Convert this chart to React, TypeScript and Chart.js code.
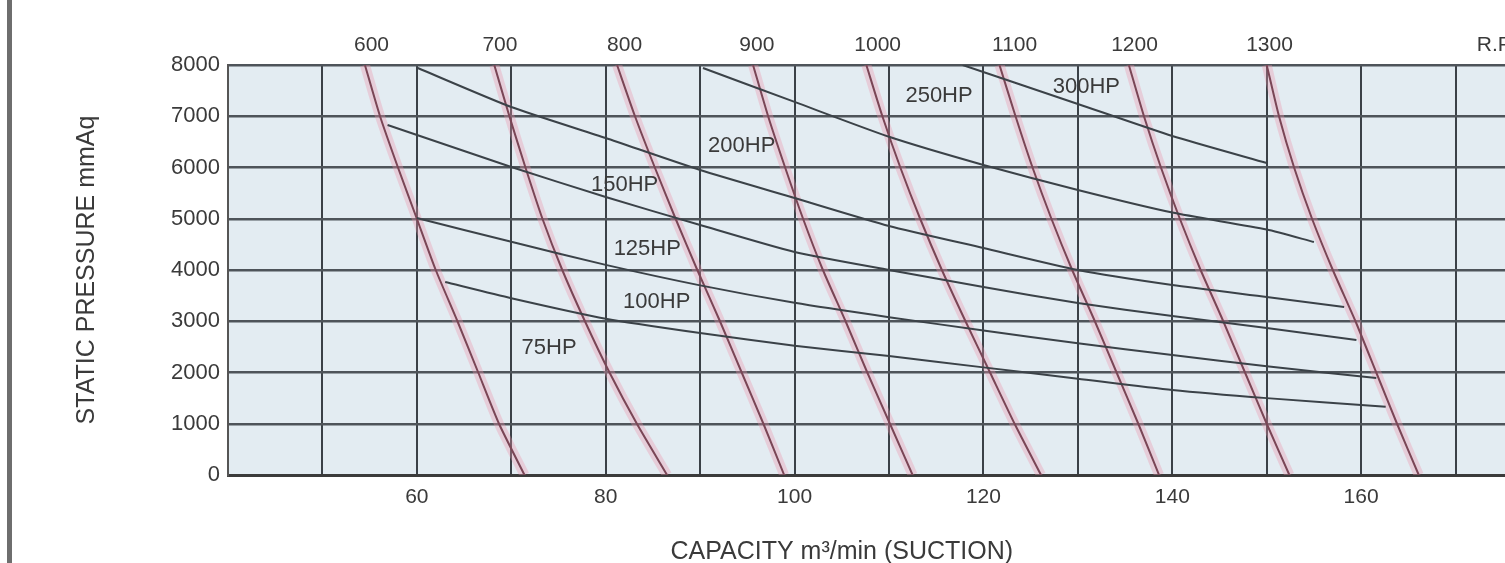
import React, { useEffect, useRef } from 'react';
import { Chart, registerables } from 'chart.js';

Chart.register(...registerables);

// ---------- data ----------
// static pressure levels (mmAq) at which every R.P.M. line is sampled
const pressureLevels = [8000, 7000, 6000, 5000, 4000, 3000, 2000, 1000, 0];

// capacity (m3/min) of each R.P.M. line at the pressure levels above
const rpm600 = [54.5, 56.1, 58.0, 60.0, 62.0, 64.3, 66.5, 68.7, 71.4];
const rpm700 = [68.2, 69.8, 71.5, 73.3, 75.4, 77.8, 80.4, 83.3, 86.5];
const rpm800 = [81.2, 83.1, 85.2, 87.4, 89.7, 92.1, 94.4, 96.7, 98.9];
const rpm900 = [95.6, 97.2, 99.0, 100.9, 103.0, 105.4, 107.7, 110.1, 112.5];
const rpm1000 = [107.6, 109.3, 111.2, 113.3, 115.6, 118.1, 120.7, 123.3, 126.1];
const rpm1100 = [121.7, 123.4, 125.2, 127.2, 129.4, 131.8, 134.1, 136.4, 138.6];
const rpm1200 = [135.4, 137.0, 138.8, 140.8, 143.0, 145.4, 147.7, 150.0, 152.4];
const rpm1300 = [150.0, 151.3, 152.9, 154.8, 157.0, 159.4, 161.6, 163.8, 166.1];

// horsepower boundary curves: capacity / pressure pairs
const hp75to100Flow = [63.0, 70, 80, 90, 100, 110, 120, 130, 140, 150, 162.6];
const hp75to100Pres = [3766, 3450, 3050, 2770, 2520, 2320, 2100, 1880, 1660, 1500, 1330];
const hp100to125Flow = [60.0, 70, 80, 90, 100, 110, 120, 130, 140, 150, 161.6];
const hp100to125Pres = [5015, 4550, 4100, 3700, 3360, 3080, 2820, 2570, 2340, 2120, 1893];
const hp125to150Flow = [56.9, 70, 80, 90, 100, 110, 120, 130, 140, 150, 159.5];
const hp125to150Pres = [6830, 6010, 5424, 4878, 4351, 4000, 3668, 3356, 3102, 2868, 2634];
const hp150to200Flow = [60.1, 70, 80, 90, 100, 110, 120, 130, 140, 150, 158.2];
const hp150to200Pres = [7941, 7180, 6575, 5951, 5405, 4859, 4429, 4000, 3707, 3473, 3278];
const hp200to250Flow = [90.3, 100, 110, 120, 130, 140, 150, 155.0];
const hp200to250Pres = [7941, 7280, 6600, 6050, 5560, 5120, 4790, 4546];
const hp250to300Flow = [117.8, 130, 140, 150];
const hp250to300Pres = [8000, 7240, 6615, 6088];

// region labels
const hpLabels = ['75HP', '100HP', '125HP', '150HP', '200HP', '250HP', '300HP'];
const hpLabelFlow = [74.0, 85.4, 84.4, 82.0, 94.4, 115.3, 130.9];
const hpLabelPres = [2478, 3376, 4410, 5660, 6420, 7400, 7570];

// top axis labels (R.P.M.)
const rpmLabels = ['600', '700', '800', '900', '1000', '1100', '1200', '1300', 'R.P.M'];
const rpmLabelFlow = [55.2, 68.8, 82.0, 96.0, 108.8, 123.3, 136.0, 150.3, 175.2];

// bottom axis labelled ticks
const xLabelValues = [60, 80, 100, 120, 140, 160];

const xTitle = 'CAPACITY m³/min (SUCTION)';
const yTitle = 'STATIC PRESSURE mmAq';

// ---------- styles ----------
const TEXT = '#3a3a3a';
const PLOT_BG = '#e3ecf2';
const FONT = '"Liberation Sans", Arial, Helvetica, sans-serif';

export default function App() {
  const ref = useRef<HTMLCanvasElement | null>(null);

  useEffect(() => {
    const canvas = ref.current;
    if (!canvas) return;
    Chart.defaults.font.family = FONT;

    const mk = (flows: number[], pres: number[]) => flows.map((f, i) => ({ x: f, y: pres[i] }));
    const rpmSeries = [rpm600, rpm700, rpm800, rpm900, rpm1000, rpm1100, rpm1200, rpm1300];
    const hpSeries: [number[], number[]][] = [
      [hp75to100Flow, hp75to100Pres],
      [hp100to125Flow, hp100to125Pres],
      [hp125to150Flow, hp125to150Pres],
      [hp150to200Flow, hp150to200Pres],
      [hp200to250Flow, hp200to250Pres],
      [hp250to300Flow, hp250to300Pres],
    ];

    const datasets: any[] = [];
    rpmSeries.forEach((fl, i) => {
      datasets.push({
        label: rpmLabels[i] + ' band',
        data: mk(fl, pressureLevels),
        borderColor: 'rgba(236,150,172,0.35)',
        borderWidth: 10,
        pointRadius: 0,
        tension: 0.2,
        order: 3,
      });
      datasets.push({
        label: rpmLabels[i] + ' rpm',
        data: mk(fl, pressureLevels),
        borderColor: '#7a4656',
        borderWidth: 2,
        pointRadius: 0,
        tension: 0.2,
        order: 2,
      });
    });
    hpSeries.forEach(([fl, pr], i) => {
      datasets.push({
        label: 'hp' + i,
        data: mk(fl, pr),
        borderColor: '#3b4248',
        borderWidth: 2,
        pointRadius: 0,
        tension: 0.2,
        order: 1,
      });
    });

    const bgPlugin = {
      id: 'plotBg',
      beforeDraw(chart: any) {
        const { ctx, chartArea: a } = chart;
        ctx.save();
        ctx.fillStyle = PLOT_BG;
        ctx.fillRect(a.left, a.top, a.right - a.left, a.bottom - a.top);
        ctx.restore();
      },
    };

    const textPlugin = {
      id: 'hpText',
      afterDatasetsDraw(chart: any) {
        const { ctx, scales } = chart;
        const xs = scales.x;
        const ys = scales.y;
        ctx.save();
        ctx.fillStyle = TEXT;
        ctx.font = '22px ' + FONT;
        ctx.textAlign = 'center';
        ctx.textBaseline = 'middle';
        hpLabels.forEach((t, i) => {
          ctx.fillText(t, xs.getPixelForValue(hpLabelFlow[i]), ys.getPixelForValue(hpLabelPres[i]));
        });
        // x-axis title
        ctx.font = '25px ' + FONT;
        ctx.fillText(xTitle, xs.getPixelForValue(105), chart.height - 11);
        ctx.restore();
      },
    };

    const chart = new Chart(canvas, {
      type: 'line',
      data: { datasets },
      options: {
        animation: false,
        responsive: true,
        maintainAspectRatio: false,
        events: [],
        layout: { padding: 0 },
        plugins: { legend: { display: false }, tooltip: { enabled: false } },
        scales: {
          x: {
            type: 'linear',
            position: 'bottom',
            min: 40,
            max: 180,
            afterFit: (s: any) => { s.height = 88; },
            ticks: {
              stepSize: 10,
              autoSkip: false,
              maxRotation: 0,
              padding: 10,
              color: TEXT,
              font: { size: 21 },
              callback: (v: any) => (xLabelValues.includes(Number(v)) ? String(v) : ''),
            },
            grid: { color: '#3b4147', lineWidth: 2, drawTicks: false },
            border: { color: '#3b3b3b', width: 3 },
          },
          xTop: {
            type: 'linear',
            position: 'top',
            min: 40,
            max: 180,
            afterFit: (s: any) => { s.height = 65; },
            afterBuildTicks: (s: any) => { s.ticks = rpmLabelFlow.map((v) => ({ value: v })); },
            ticks: {
              autoSkip: false,
              maxRotation: 0,
              padding: 7,
              color: TEXT,
              font: { size: 21 },
              callback: (_v: any, i: number) => rpmLabels[i],
            },
            grid: { display: false, drawTicks: false },
            border: { display: false },
          },
          y: {
            type: 'linear',
            position: 'left',
            min: 0,
            max: 8000,
            afterFit: (s: any) => { s.width = 228; },
            ticks: {
              stepSize: 1000,
              padding: 8,
              color: TEXT,
              font: { size: 22 },
              callback: (v: any) => String(v),
            },
            grid: { color: '#4e545a', lineWidth: 2.5, drawTicks: false },
            border: { color: '#555555', width: 2 },
            title: {
              display: true,
              text: yTitle,
              color: TEXT,
              font: { size: 25 },
              padding: { top: 72, bottom: 0 },
            },
          },
        },
      } as any,
      plugins: [bgPlugin, textPlugin],
    });
    return () => chart.destroy();
  }, []);

  return (
    <div style={{ position: 'fixed', left: 0, top: 0, width: 1505, height: 563, overflow: 'hidden', background: '#ffffff' }}>
      <div style={{ position: 'absolute', left: 0, top: 0, width: 1560, height: 563 }}>
        <canvas ref={ref} />
      </div>
      <div style={{ position: 'absolute', left: 7, top: 0, width: 5, height: 563, background: '#6e6e6e' }} />
    </div>
  );
}
